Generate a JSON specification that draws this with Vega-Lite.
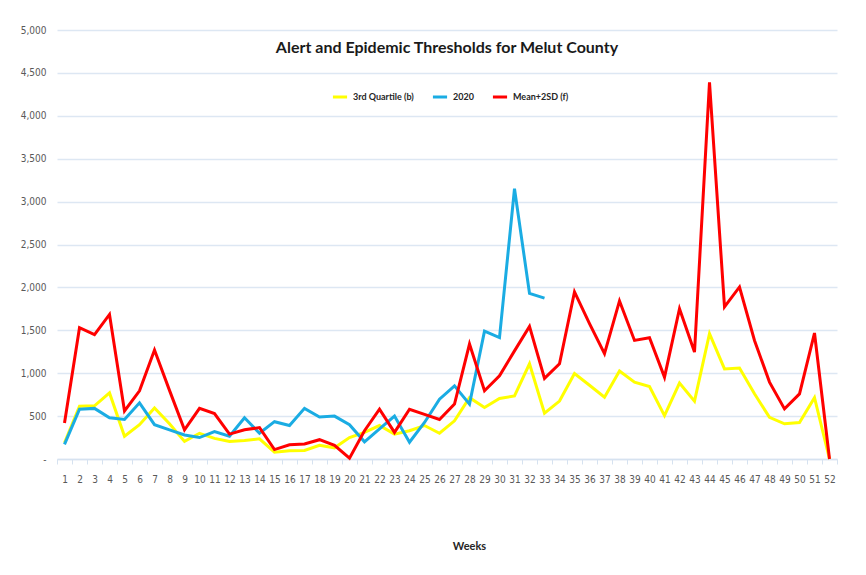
{
  "$schema": "https://vega.github.io/schema/vega-lite/v6.json",
  "autosize": {"type": "none"},
  "width": 780,
  "height": 429,
  "padding": {"left": 57, "top": 30, "right": 29, "bottom": 116},
  "background": "white",
  "title": {
    "text": "Alert and Epidemic Thresholds for Melut County",
    "anchor": "middle",
    "font": "Lato, sans-serif",
    "fontSize": 16,
    "fontWeight": "bold",
    "color": "#1a1a1a",
    "dy": 35
  },
  "data": {
    "values": [
      {"week": 1, "series": "3rd Quartile (b)", "value": 190},
      {"week": 2, "series": "3rd Quartile (b)", "value": 615},
      {"week": 3, "series": "3rd Quartile (b)", "value": 620},
      {"week": 4, "series": "3rd Quartile (b)", "value": 770},
      {"week": 5, "series": "3rd Quartile (b)", "value": 265},
      {"week": 6, "series": "3rd Quartile (b)", "value": 400},
      {"week": 7, "series": "3rd Quartile (b)", "value": 595},
      {"week": 8, "series": "3rd Quartile (b)", "value": 410},
      {"week": 9, "series": "3rd Quartile (b)", "value": 205},
      {"week": 10, "series": "3rd Quartile (b)", "value": 300},
      {"week": 11, "series": "3rd Quartile (b)", "value": 240},
      {"week": 12, "series": "3rd Quartile (b)", "value": 205},
      {"week": 13, "series": "3rd Quartile (b)", "value": 215},
      {"week": 14, "series": "3rd Quartile (b)", "value": 235},
      {"week": 15, "series": "3rd Quartile (b)", "value": 80},
      {"week": 16, "series": "3rd Quartile (b)", "value": 95},
      {"week": 17, "series": "3rd Quartile (b)", "value": 100},
      {"week": 18, "series": "3rd Quartile (b)", "value": 160},
      {"week": 19, "series": "3rd Quartile (b)", "value": 130},
      {"week": 20, "series": "3rd Quartile (b)", "value": 250},
      {"week": 21, "series": "3rd Quartile (b)", "value": 310},
      {"week": 22, "series": "3rd Quartile (b)", "value": 390},
      {"week": 23, "series": "3rd Quartile (b)", "value": 290},
      {"week": 24, "series": "3rd Quartile (b)", "value": 330},
      {"week": 25, "series": "3rd Quartile (b)", "value": 390},
      {"week": 26, "series": "3rd Quartile (b)", "value": 300},
      {"week": 27, "series": "3rd Quartile (b)", "value": 445},
      {"week": 28, "series": "3rd Quartile (b)", "value": 715},
      {"week": 29, "series": "3rd Quartile (b)", "value": 600},
      {"week": 30, "series": "3rd Quartile (b)", "value": 705},
      {"week": 31, "series": "3rd Quartile (b)", "value": 735},
      {"week": 32, "series": "3rd Quartile (b)", "value": 1110},
      {"week": 33, "series": "3rd Quartile (b)", "value": 535},
      {"week": 34, "series": "3rd Quartile (b)", "value": 675},
      {"week": 35, "series": "3rd Quartile (b)", "value": 995},
      {"week": 36, "series": "3rd Quartile (b)", "value": 860},
      {"week": 37, "series": "3rd Quartile (b)", "value": 720},
      {"week": 38, "series": "3rd Quartile (b)", "value": 1025},
      {"week": 39, "series": "3rd Quartile (b)", "value": 895},
      {"week": 40, "series": "3rd Quartile (b)", "value": 845},
      {"week": 41, "series": "3rd Quartile (b)", "value": 505},
      {"week": 42, "series": "3rd Quartile (b)", "value": 885},
      {"week": 43, "series": "3rd Quartile (b)", "value": 675},
      {"week": 44, "series": "3rd Quartile (b)", "value": 1460},
      {"week": 45, "series": "3rd Quartile (b)", "value": 1050},
      {"week": 46, "series": "3rd Quartile (b)", "value": 1060},
      {"week": 47, "series": "3rd Quartile (b)", "value": 760},
      {"week": 48, "series": "3rd Quartile (b)", "value": 485},
      {"week": 49, "series": "3rd Quartile (b)", "value": 410},
      {"week": 50, "series": "3rd Quartile (b)", "value": 425},
      {"week": 51, "series": "3rd Quartile (b)", "value": 715},
      {"week": 52, "series": "3rd Quartile (b)", "value": 0},
      {"week": 1, "series": "2020", "value": 170},
      {"week": 2, "series": "2020", "value": 580},
      {"week": 3, "series": "2020", "value": 590},
      {"week": 4, "series": "2020", "value": 480},
      {"week": 5, "series": "2020", "value": 460},
      {"week": 6, "series": "2020", "value": 655},
      {"week": 7, "series": "2020", "value": 400},
      {"week": 8, "series": "2020", "value": 340},
      {"week": 9, "series": "2020", "value": 280},
      {"week": 10, "series": "2020", "value": 250},
      {"week": 11, "series": "2020", "value": 320},
      {"week": 12, "series": "2020", "value": 265},
      {"week": 13, "series": "2020", "value": 480},
      {"week": 14, "series": "2020", "value": 300},
      {"week": 15, "series": "2020", "value": 435},
      {"week": 16, "series": "2020", "value": 390},
      {"week": 17, "series": "2020", "value": 590},
      {"week": 18, "series": "2020", "value": 490},
      {"week": 19, "series": "2020", "value": 500},
      {"week": 20, "series": "2020", "value": 400},
      {"week": 21, "series": "2020", "value": 200},
      {"week": 22, "series": "2020", "value": 350},
      {"week": 23, "series": "2020", "value": 500},
      {"week": 24, "series": "2020", "value": 195},
      {"week": 25, "series": "2020", "value": 426},
      {"week": 26, "series": "2020", "value": 698},
      {"week": 27, "series": "2020", "value": 853},
      {"week": 28, "series": "2020", "value": 640},
      {"week": 29, "series": "2020", "value": 1490},
      {"week": 30, "series": "2020", "value": 1415},
      {"week": 31, "series": "2020", "value": 3150},
      {"week": 32, "series": "2020", "value": 1930},
      {"week": 33, "series": "2020", "value": 1875},
      {"week": 1, "series": "Mean+2SD (f)", "value": 420},
      {"week": 2, "series": "Mean+2SD (f)", "value": 1530},
      {"week": 3, "series": "Mean+2SD (f)", "value": 1450},
      {"week": 4, "series": "Mean+2SD (f)", "value": 1685},
      {"week": 5, "series": "Mean+2SD (f)", "value": 560},
      {"week": 6, "series": "Mean+2SD (f)", "value": 795},
      {"week": 7, "series": "Mean+2SD (f)", "value": 1270},
      {"week": 8, "series": "Mean+2SD (f)", "value": 800},
      {"week": 9, "series": "Mean+2SD (f)", "value": 340},
      {"week": 10, "series": "Mean+2SD (f)", "value": 590},
      {"week": 11, "series": "Mean+2SD (f)", "value": 530},
      {"week": 12, "series": "Mean+2SD (f)", "value": 290},
      {"week": 13, "series": "Mean+2SD (f)", "value": 340},
      {"week": 14, "series": "Mean+2SD (f)", "value": 366},
      {"week": 15, "series": "Mean+2SD (f)", "value": 110},
      {"week": 16, "series": "Mean+2SD (f)", "value": 166},
      {"week": 17, "series": "Mean+2SD (f)", "value": 175},
      {"week": 18, "series": "Mean+2SD (f)", "value": 225},
      {"week": 19, "series": "Mean+2SD (f)", "value": 160},
      {"week": 20, "series": "Mean+2SD (f)", "value": 10},
      {"week": 21, "series": "Mean+2SD (f)", "value": 330},
      {"week": 22, "series": "Mean+2SD (f)", "value": 580},
      {"week": 23, "series": "Mean+2SD (f)", "value": 310},
      {"week": 24, "series": "Mean+2SD (f)", "value": 580},
      {"week": 25, "series": "Mean+2SD (f)", "value": 520},
      {"week": 26, "series": "Mean+2SD (f)", "value": 460},
      {"week": 27, "series": "Mean+2SD (f)", "value": 640},
      {"week": 28, "series": "Mean+2SD (f)", "value": 1340},
      {"week": 29, "series": "Mean+2SD (f)", "value": 795},
      {"week": 30, "series": "Mean+2SD (f)", "value": 970},
      {"week": 31, "series": "Mean+2SD (f)", "value": 1260},
      {"week": 32, "series": "Mean+2SD (f)", "value": 1545},
      {"week": 33, "series": "Mean+2SD (f)", "value": 940},
      {"week": 34, "series": "Mean+2SD (f)", "value": 1110},
      {"week": 35, "series": "Mean+2SD (f)", "value": 1947},
      {"week": 36, "series": "Mean+2SD (f)", "value": 1577},
      {"week": 37, "series": "Mean+2SD (f)", "value": 1227},
      {"week": 38, "series": "Mean+2SD (f)", "value": 1842},
      {"week": 39, "series": "Mean+2SD (f)", "value": 1382},
      {"week": 40, "series": "Mean+2SD (f)", "value": 1413},
      {"week": 41, "series": "Mean+2SD (f)", "value": 954},
      {"week": 42, "series": "Mean+2SD (f)", "value": 1752},
      {"week": 43, "series": "Mean+2SD (f)", "value": 1246},
      {"week": 44, "series": "Mean+2SD (f)", "value": 4389},
      {"week": 45, "series": "Mean+2SD (f)", "value": 1772},
      {"week": 46, "series": "Mean+2SD (f)", "value": 2005},
      {"week": 47, "series": "Mean+2SD (f)", "value": 1382},
      {"week": 48, "series": "Mean+2SD (f)", "value": 896},
      {"week": 49, "series": "Mean+2SD (f)", "value": 584},
      {"week": 50, "series": "Mean+2SD (f)", "value": 759},
      {"week": 51, "series": "Mean+2SD (f)", "value": 1468},
      {"week": 52, "series": "Mean+2SD (f)", "value": 0}
    ]
  },
  "mark": {"type": "line", "strokeWidth": 3, "strokeJoin": "miter", "strokeCap": "butt"},
  "encoding": {
    "x": {
      "field": "week",
      "type": "ordinal",
      "scale": {"type": "band", "paddingInner": 0, "paddingOuter": 0},
      "bandPosition": 0.5,
      "axis": {
        "title": "Weeks",
        "titleFont": "Lato, sans-serif",
        "titleFontSize": 11,
        "titleFontWeight": "bold",
        "titleColor": "#262626",
        "titlePadding": 56,
        "titleX": 412,
        "labelAngle": 0,
        "labelFont": "Liberation Sans Narrow, DejaVu Sans Condensed, sans-serif",
        "labelFontSize": 10,
        "labelColor": "#595959",
        "labelPadding": 10,
        "tickBand": "extent",
        "tickColor": "#d6e2f0",
        "tickSize": 5,
        "domainColor": "#d6e2f0",
        "domainWidth": 1.5,
        "grid": false
      }
    },
    "y": {
      "field": "value",
      "type": "quantitative",
      "scale": {"domain": [0, 5000], "nice": false},
      "axis": {
        "title": null,
        "values": [0, 500, 1000, 1500, 2000, 2500, 3000, 3500, 4000, 4500, 5000],
        "labelExpr": "datum.value === 0 ? '-' : format(datum.value, ',')",
        "labelFont": "Liberation Sans Narrow, DejaVu Sans Condensed, sans-serif",
        "labelFontSize": 10,
        "labelColor": "#595959",
        "labelPadding": 11,
        "domain": false,
        "ticks": false,
        "grid": true,
        "gridColor": "#dde7f3",
        "gridWidth": 1.5
      }
    },
    "color": {
      "field": "series",
      "type": "nominal",
      "sort": ["3rd Quartile (b)", "2020", "Mean+2SD (f)"],
      "scale": {
        "domain": ["3rd Quartile (b)", "2020", "Mean+2SD (f)"],
        "range": ["#ffff00", "#1aace3", "#ff0000"]
      },
      "legend": {
        "title": null,
        "orient": "none",
        "legendX": 274,
        "legendY": 58,
        "direction": "horizontal",
        "symbolType": "stroke",
        "symbolStrokeWidth": 3,
        "symbolSize": 200,
        "labelFont": "Lato, sans-serif",
        "labelFontSize": 9,
        "labelFontWeight": "bold",
        "labelColor": "#262626",
        "columnPadding": 12
      }
    }
  },
  "config": {
    "view": {"stroke": null}
  }
}
